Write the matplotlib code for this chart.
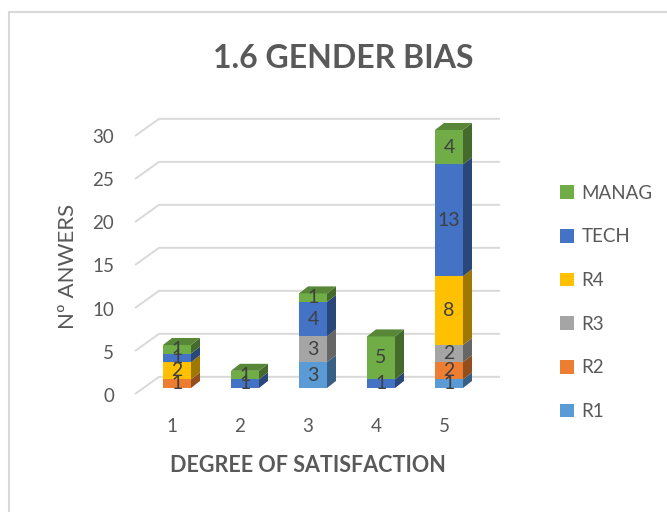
import numpy as np
import matplotlib
matplotlib.use('Agg')
import matplotlib.pyplot as plt
from matplotlib.patches import Polygon, Patch, Rectangle
from matplotlib import colors as mcolors

plt.rcParams['font.family'] = ['Lato', 'DejaVu Sans']

# data
categories = [1, 2, 3, 4, 5]
series = ['R1', 'R2', 'R3', 'R4', 'TECH', 'MANAG']
r1 = [0, 0, 3, 0, 1]
r2 = [1, 0, 0, 0, 2]
r3 = [0, 0, 3, 0, 2]
r4 = [2, 0, 0, 0, 8]
tech = [1, 1, 4, 1, 13]
manag = [1, 1, 1, 5, 4]
values = [r1, r2, r3, r4, tech, manag]
colors = ['#5B9BD5', '#ED7D31', '#A5A5A5', '#FFC000', '#4472C4', '#70AD47']
yticks = [0, 5, 10, 15, 20, 25, 30]

W, H = 667, 512
PX1, STEP, PY0, SCALE = 177, 68, 388, 8.6   # pixel of category 1, spacing, zero line, px per unit


def xd(px):
    return 1 + (px - PX1) / STEP


def yd(py):
    return (PY0 - py) / SCALE


fig = plt.figure(figsize=(W / 100, H / 100), dpi=100)
ax = fig.add_axes([0, 0, 1, 1])
ax.set_xlim(xd(0), xd(W))
ax.set_ylim(yd(H), yd(0))
ax.axis('off')

# chart border
fig.patches.append(Rectangle((9 / W, -0.1), 1.2, 1 - 12 / H + 0.1, transform=fig.transFigure,
                             fill=False, edgecolor='#d9d9d9', lw=1.5))

grid_c = '#d9d9d9'
gx0, gx1, gx2 = xd(135), xd(159), xd(500)
for v in yticks:
    ax.plot([gx0, gx1, gx2], [v - 0.7, v + 1.3, v + 1.3], color=grid_c, lw=1.4, zorder=1,
            solid_capstyle='butt')
    ax.text(xd(114), v * 1.005 - 1.0, str(v), ha='right', va='center', fontsize=13.5, color='#595959')

w = 28 / STEP
dx, dy = 9 / STEP, 7 / SCALE
x = np.array(categories, dtype=float)


def shade(c, f):
    r, g, b = mcolors.to_rgb(c)
    return (r * f, g * f, b * f)


bottom = np.zeros(len(categories))
totals = np.sum(values, axis=0)
for vals, c, name in zip(values, colors, series):
    vals = np.array(vals, dtype=float)
    mask = vals > 0
    ax.bar(x[mask], vals[mask], w, bottom=bottom[mask], color=c, zorder=3)
    for xi, b, v, tot in zip(x, bottom, vals, totals):
        if v <= 0:
            continue
        xr = xi + w / 2
        ax.add_patch(Polygon([(xr, b), (xr + dx, b + dy), (xr + dx, b + v + dy), (xr, b + v)],
                             closed=True, facecolor=shade(c, 0.62), zorder=3))
        if b + v == tot:
            xl = xi - w / 2
            ax.add_patch(Polygon([(xl, tot), (xl + dx, tot + dy), (xr + dx, tot + dy), (xr, tot)],
                                 closed=True, facecolor=shade(c, 0.78), zorder=3))
        ax.text(xi, b + v / 2, str(int(v)), ha='center', va='center', fontsize=14,
                color='#404040', zorder=5)
    bottom = bottom + vals

for xi in categories:
    ax.text(xi - 5 / STEP, yd(426), str(xi), ha='center', va='center', fontsize=13.5, color='#595959')

fig.text(343 / W, 1 - 58 / H, '1.6 GENDER BIAS', ha='center', va='center', fontsize=23,
         fontweight='bold', color='#595959')
fig.text(308 / W, 1 - 466 / H, 'DEGREE OF SATISFACTION', ha='center', va='center', fontsize=15.5,
         fontweight='bold', color='#595959')
fig.text(68 / W, 1 - 266 / H, 'Nº ANWERS', ha='center', va='center', rotation=90, fontsize=16,
         color='#595959')

handles = [Patch(facecolor=c, label=s) for s, c in zip(series, colors)][::-1]
leg = fig.legend(handles=handles, loc='upper left', bbox_to_anchor=(543 / W, 1 - 168 / H),
                 frameon=False, fontsize=13.5, handlelength=0.75, handleheight=0.75,
                 handletextpad=0.4, labelspacing=1.42)
for t in leg.get_texts():
    t.set_color('#595959')

fig.savefig('out.png', dpi=100)
